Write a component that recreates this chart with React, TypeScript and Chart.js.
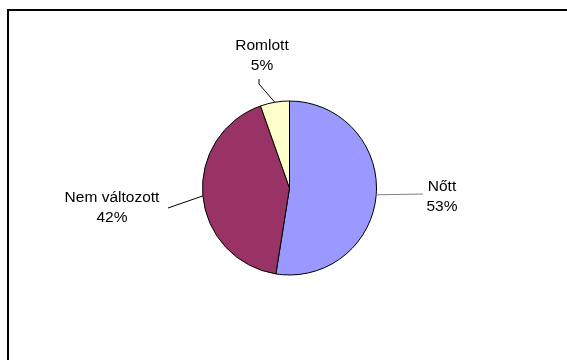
import React, { useEffect, useRef } from "react";
import { Chart, registerables } from "chart.js";

Chart.register(...registerables);

const categories = ["Nőtt", "Nem változott", "Romlott"];
const values = [52.5, 42.1, 5.4];
const percentLabels = ["53%", "42%", "5%"];
const colors = ["#9999FF", "#993366", "#FFFFCC"];

// label layout: leader line end point and text block center
const labelLayout = [
  { elbow: null, end: [423, 194], text: [442, 187] },
  { elbow: null, end: [168, 208], text: [112, 198] },
  { elbow: [259, 84], end: [259, 79], text: [262, 46] },
];

const FONT = "15.5px 'Liberation Sans', Arial, sans-serif";
const LINE_H = 20;

const labelPlugin = {
  id: "pieLabels",
  afterDatasetsDraw(chart: any) {
    const ctx = chart.ctx;
    const meta = chart.getDatasetMeta(0);
    ctx.save();
    meta.data.forEach((arc: any, i: number) => {
      const { x, y, startAngle, endAngle, outerRadius } = arc.getProps(
        ["x", "y", "startAngle", "endAngle", "outerRadius"],
        true
      );
      const mid = (startAngle + endAngle) / 2;
      const sx = x + Math.cos(mid) * outerRadius;
      const sy = y + Math.sin(mid) * outerRadius;
      const L = labelLayout[i];
      ctx.strokeStyle = i === 0 ? "#808080" : "#000000";
      ctx.lineWidth = 1;
      ctx.beginPath();
      ctx.moveTo(sx, sy);
      if (L.elbow) ctx.lineTo(L.elbow[0], L.elbow[1]);
      ctx.lineTo(L.end[0], L.end[1]);
      ctx.stroke();
      ctx.fillStyle = "#000000";
      ctx.font = FONT;
      ctx.textAlign = "center";
      ctx.textBaseline = "middle";
      ctx.fillText(categories[i], L.text[0], L.text[1]);
      ctx.fillText(percentLabels[i], L.text[0], L.text[1] + LINE_H);
    });
    ctx.restore();
  },
};

export default function App() {
  const ref = useRef<HTMLCanvasElement | null>(null);
  useEffect(() => {
    if (!ref.current) return;
    const chart = new Chart(ref.current, {
      type: "pie",
      data: {
        labels: categories,
        datasets: [
          {
            data: values,
            backgroundColor: colors,
            borderColor: "#000000",
            borderWidth: 1,
          },
        ],
      },
      options: {
        responsive: false,
        animation: false,
        radius: 87,
        layout: { padding: { left: 12, right: 0, top: 16, bottom: 0 } },
        plugins: {
          legend: { display: false },
          tooltip: { enabled: false },
          title: { display: false },
        },
      } as any,
      plugins: [labelPlugin],
    });
    return () => chart.destroy();
  }, []);

  return (
    <div
      style={{
        position: "fixed",
        left: 0,
        top: 0,
        width: 567,
        height: 360,
        background: "#ffffff",
        overflow: "hidden",
      }}
    >
      <div
        style={{
          position: "absolute",
          left: 7,
          top: 9,
          width: 600,
          height: 400,
          borderTop: "2px solid #000",
          borderLeft: "2px solid #000",
          boxSizing: "border-box",
        }}
      />
      <canvas
        ref={ref}
        width={567}
        height={360}
        style={{ position: "absolute", left: 0, top: 0 }}
      />
    </div>
  );
}
